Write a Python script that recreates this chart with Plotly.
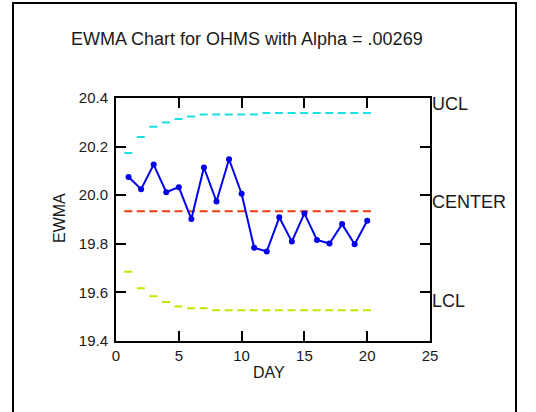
import plotly.graph_objects as go

# ---- data ----
DAY = list(range(1, 21))
EWMA = [20.075, 20.025, 20.126, 20.012, 20.033, 19.902, 20.114, 19.974, 20.148, 20.006,
        19.784, 19.768, 19.909, 19.809, 19.925, 19.816, 19.801, 19.881, 19.798, 19.895]
UCL = [20.174, 20.240, 20.282, 20.299, 20.314, 20.324, 20.332, 20.332, 20.332, 20.332,
       20.332, 20.338, 20.338, 20.338, 20.338, 20.338, 20.338, 20.338, 20.338, 20.338]
LCL = [19.685, 19.617, 19.584, 19.560, 19.542, 19.535, 19.535, 19.527, 19.527, 19.527,
       19.527, 19.527, 19.527, 19.527, 19.527, 19.527, 19.527, 19.527, 19.527, 19.527]
CENTER = 19.934
X_TICKS = [0, 5, 10, 15, 20, 25]
Y_TICKS = [19.4, 19.6, 19.8, 20.0, 20.2, 20.4]
TITLE = "EWMA Chart for OHMS with Alpha = .00269"

FONT = "Liberation Sans, Arial, sans-serif"
TXT = "#1a1a1a"


def steps(xs, ys):
    sx, sy = [], []
    for x, y in zip(xs, ys):
        sx += [x - 0.5, x + 0.5, None]
        sy += [y, y, None]
    return sx, sy


fig = go.Figure()
dash = "0px,2px,8px,3px"
for vals, col in [(UCL, "#18e0e0"), ([CENTER] * len(DAY), "#ee3a10"), (LCL, "#c8e400")]:
    sx, sy = steps(DAY, vals)
    fig.add_trace(go.Scatter(x=sx, y=sy, mode="lines",
                             line=dict(color=col, width=2, dash=dash),
                             hoverinfo="skip", showlegend=False))

fig.add_trace(go.Scatter(x=DAY, y=EWMA, mode="lines+markers",
                         line=dict(color="#0000ee", width=2),
                         marker=dict(color="#0000ee", size=6, symbol="circle"),
                         showlegend=False))

axis_common = dict(showline=True, linecolor="black", linewidth=2, mirror="ticks",
                   ticks="inside", ticklen=10, tickwidth=2, tickcolor="black",
                   showgrid=False, zeroline=False,
                   tickfont=dict(family=FONT, size=15, color=TXT))
fig.update_xaxes(range=[0, 25], tickvals=X_TICKS, ticktext=[str(v) for v in X_TICKS],
                 **axis_common)
fig.update_yaxes(range=[19.4, 20.4], tickvals=Y_TICKS, ticktext=[f"{v:.1f}" for v in Y_TICKS],
                 ticklabelstandoff=3, **axis_common)

W, H = 536, 412
L, R, T, B = 116, 430, 98, 341
pw, ph = R - L, B - T


def px(xp):
    return (xp - L) / pw


def py(yp):
    return (B - yp) / ph


annotations = [
    dict(text=TITLE, x=px(69), y=py(39), xref="paper", yref="paper", xanchor="left",
         yanchor="middle", showarrow=False, font=dict(family=FONT, size=18, color=TXT)),
    dict(text="DAY", x=px(269), y=py(372), xref="paper", yref="paper", xanchor="center",
         yanchor="middle", showarrow=False, font=dict(family=FONT, size=16, color=TXT)),
    dict(text="EWMA", x=px(59), y=py(218), xref="paper", yref="paper", xanchor="center",
         yanchor="middle", textangle=-90, showarrow=False,
         font=dict(family=FONT, size=16, color=TXT)),
]
for lab, val in [("UCL", UCL[-1]), ("CENTER", CENTER), ("LCL", LCL[-1])]:
    annotations.append(dict(text=lab, x=1, y=val, xref="paper", yref="y", xanchor="left",
                            yanchor="middle", yshift=9, xshift=0, showarrow=False,
                            font=dict(family=FONT, size=18, color=TXT)))

fig.update_layout(
    width=W, height=H,
    margin=dict(l=L, r=W - R, t=T, b=H - B, pad=0),
    paper_bgcolor="white", plot_bgcolor="white",
    annotations=annotations,
    shapes=[dict(type="rect", xref="paper", yref="paper",
                 x0=px(13), x1=px(516), y0=py(440), y1=py(3),
                 line=dict(color="black", width=2), fillcolor="rgba(0,0,0,0)", layer="above")],
)

fig.write_html("out.html")
